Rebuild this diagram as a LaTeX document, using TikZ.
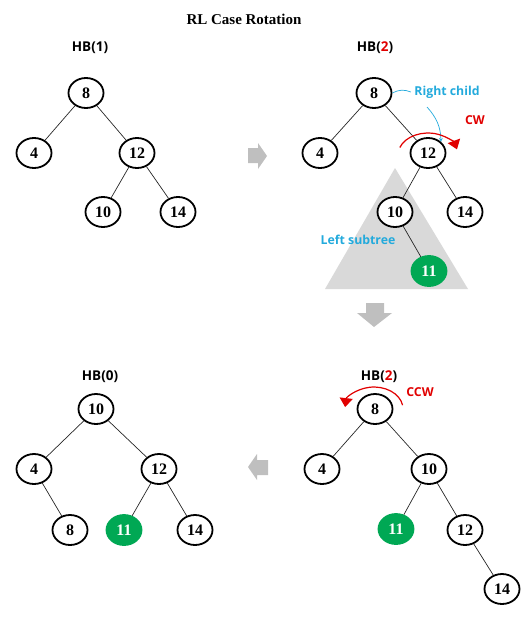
\documentclass[tikz,border=0pt]{standalone}
\usepackage{fontspec}
\setmainfont{Liberation Serif}
\newfontfamily\sansfont{Open Sans}
\usetikzlibrary{arrows.meta,shapes.geometric}
\definecolor{xanh}{RGB}{0,168,84}
\definecolor{lam}{RGB}{35,170,220}
\definecolor{do}{RGB}{225,0,0}
\tikzset{
  nut/.style={ellipse, draw, line width=1.8pt, fill=white, minimum width=35pt,
    minimum height=30pt, inner sep=0pt, font=\fontsize{16}{16}\selectfont\bfseries},
  nutxanh/.style={nut, draw=xanh, fill=xanh, text=white},
  canh/.style={line width=0.7pt, black!85},
  hb/.style={font=\sansfont\bfseries\fontsize{13.5}{13.5}\selectfont},
  nhan/.style={font=\sansfont\bfseries\fontsize{12.3}{12.3}\selectfont},
  muiten/.style={fill=black!25},
  xoay/.style={do, line width=1.2pt, -{Triangle[width=13pt,length=9pt]}}
}
\begin{document}
\begin{tikzpicture}[>=stealth, x=1pt, y=-1pt]
\useasboundingbox (0,0) rectangle (531,623);
\node[font=\fontsize{15}{15}\selectfont\bfseries] (title) at (244,19) {RL Case Rotation};
% cây 1
\node[hb] (hb1) at (90,48) {HB(1)};
\node[nut] (a8) at (86,93) {8};
\node[nut] (a4) at (34,153) {4};
\node[nut] (a12) at (137,153) {12};
\node[nut] (a10) at (103,212) {10};
\node[nut] (a14) at (178,212) {14};
\draw[canh] (a8) -- (a4) (a8) -- (a12) (a12) -- (a10) (a12) -- (a14);
% cây 2, tam giác xám là cây con trái
\fill[black!15] (395,168) -- (325,289) -- (468,289) -- cycle;
\node[hb] (hb2) at (375,48) {HB(\textcolor{do}{2})};
\node[nut] (b8) at (374,93) {8};
\node[nut] (b4) at (320,153) {4};
\node[nut] (b12) at (428,153) {12};
\node[nut] (b10) at (395,212) {10};
\node[nut] (b14) at (465,212) {14};
\node[nutxanh] (b11) at (429,271) {11};
\draw[canh] (b8) -- (b4) (b8) -- (b12) (b12) -- (b10) (b12) -- (b14) (b10) -- (b11);
\node[nhan, lam] (rc) at (447,92) {Right child};
\node[nhan, lam] (ls) at (358,240) {Left subtree};
\node[nhan, do] (cw) at (475,120) {CW};
\coordinate (rcfoot) at (427,107);
\draw[lam, line width=0.7pt] (b8.east) to[bend left=25] (rc.west);
\draw[lam, line width=0.7pt, ->] (rcfoot) to[bend left=20] (b12.north east);
\draw[xoay] (399.8,147.5) arc[start angle=200, end angle=345, x radius=30, y radius=22];
% các mũi tên xám
\fill[muiten] (248,148) -- (258,148) -- (258,143) -- (267,156) -- (258,169) -- (258,163) -- (248,163) -- cycle;
\fill[muiten] (366,303) -- (384,303) -- (384,313) -- (392,313) -- (374,327) -- (357,313) -- (366,313) -- cycle;
\fill[muiten] (268,460) -- (257,460) -- (257,454) -- (248,467) -- (257,480) -- (257,475) -- (268,475) -- cycle;
% cây 3
\node[hb] (hb3) at (379,377) {HB(\textcolor{do}{2})};
\node[nut] (c8) at (375,409) {8};
\node[nut] (c4) at (322,469) {4};
\node[nut] (c10) at (429,469) {10};
\node[nutxanh] (c11) at (396,529) {11};
\node[nut] (c12) at (465,530) {12};
\node[nut] (c14) at (502,589) {14};
\draw[canh] (c8) -- (c4) (c8) -- (c10) (c10) -- (c11) (c10) -- (c12) (c12) -- (c14);
\node[nhan, do] (ccw) at (420,392) {CCW};
\draw[xoay] (402.6,405.2) arc[start angle=-10, end angle=-175, x radius=29, y radius=22];
% cây 4
\node[hb] (hb4) at (100,377) {HB(0)};
\node[nut] (d10) at (96,409) {10};
\node[nut] (d4) at (34,469) {4};
\node[nut] (d12) at (159,469) {12};
\node[nut] (d8) at (70,530) {8};
\node[nutxanh] (d11) at (124,530) {11};
\node[nut] (d14) at (195,530) {14};
\draw[canh] (d10) -- (d4) (d10) -- (d12) (d4) -- (d8) (d12) -- (d11) (d12) -- (d14);
\end{tikzpicture}
\end{document}
